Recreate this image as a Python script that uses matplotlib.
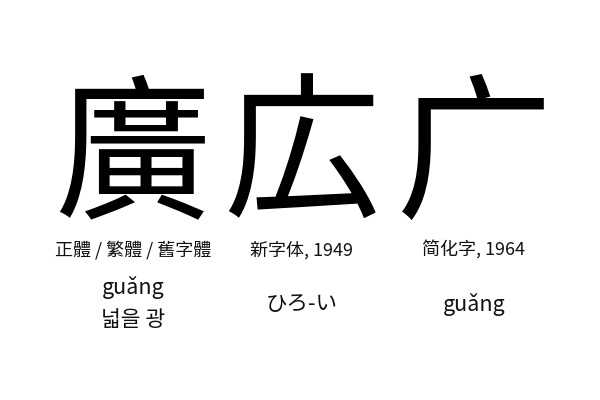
import matplotlib
matplotlib.use("Agg")
import matplotlib.pyplot as plt

# three forms of the same character, with their labels and readings
chars = ["廣", "広", "广"]
char_fonts = ["Noto Sans CJK TC", "Noto Sans CJK JP", "Noto Sans CJK SC"]
labels = ["正體 / 繁體 / 舊字體", "新字体, 1949", "简化字, 1964"]
label_fonts = ["Noto Sans CJK TC", "Noto Sans CJK JP", "Noto Sans CJK SC"]
readings = [["guǎng", "넓을 광"], ["ひろ-い"], ["guǎng"]]

col_x = [133, 302, 474]     # pixel centres of the columns
W, H = 600, 400

fig = plt.figure(figsize=(6, 4), dpi=100)
fig.patch.set_facecolor("white")

def px(x, y):
    return x / W, 1 - y / H

for i, c in enumerate(chars):
    fig.text(*px(col_x[i], 161), c, ha="center", va="center", fontsize=113,
             family=[char_fonts[i], "DejaVu Sans"], color="black")
    fig.text(*px(col_x[i], 250), labels[i], ha="center", va="center", fontsize=13,
             family=[label_fonts[i], "DejaVu Sans"], color="#111111")
    rs = readings[i]
    ys = [287, 320] if len(rs) == 2 else [304]
    for r, y in zip(rs, ys):
        fig.text(*px(col_x[i], y), r, ha="center", va="center", fontsize=15.5,
                 family=["Noto Sans CJK KR", "DejaVu Sans"], color="#111111")

fig.savefig("out.png", dpi=100, facecolor="white")
